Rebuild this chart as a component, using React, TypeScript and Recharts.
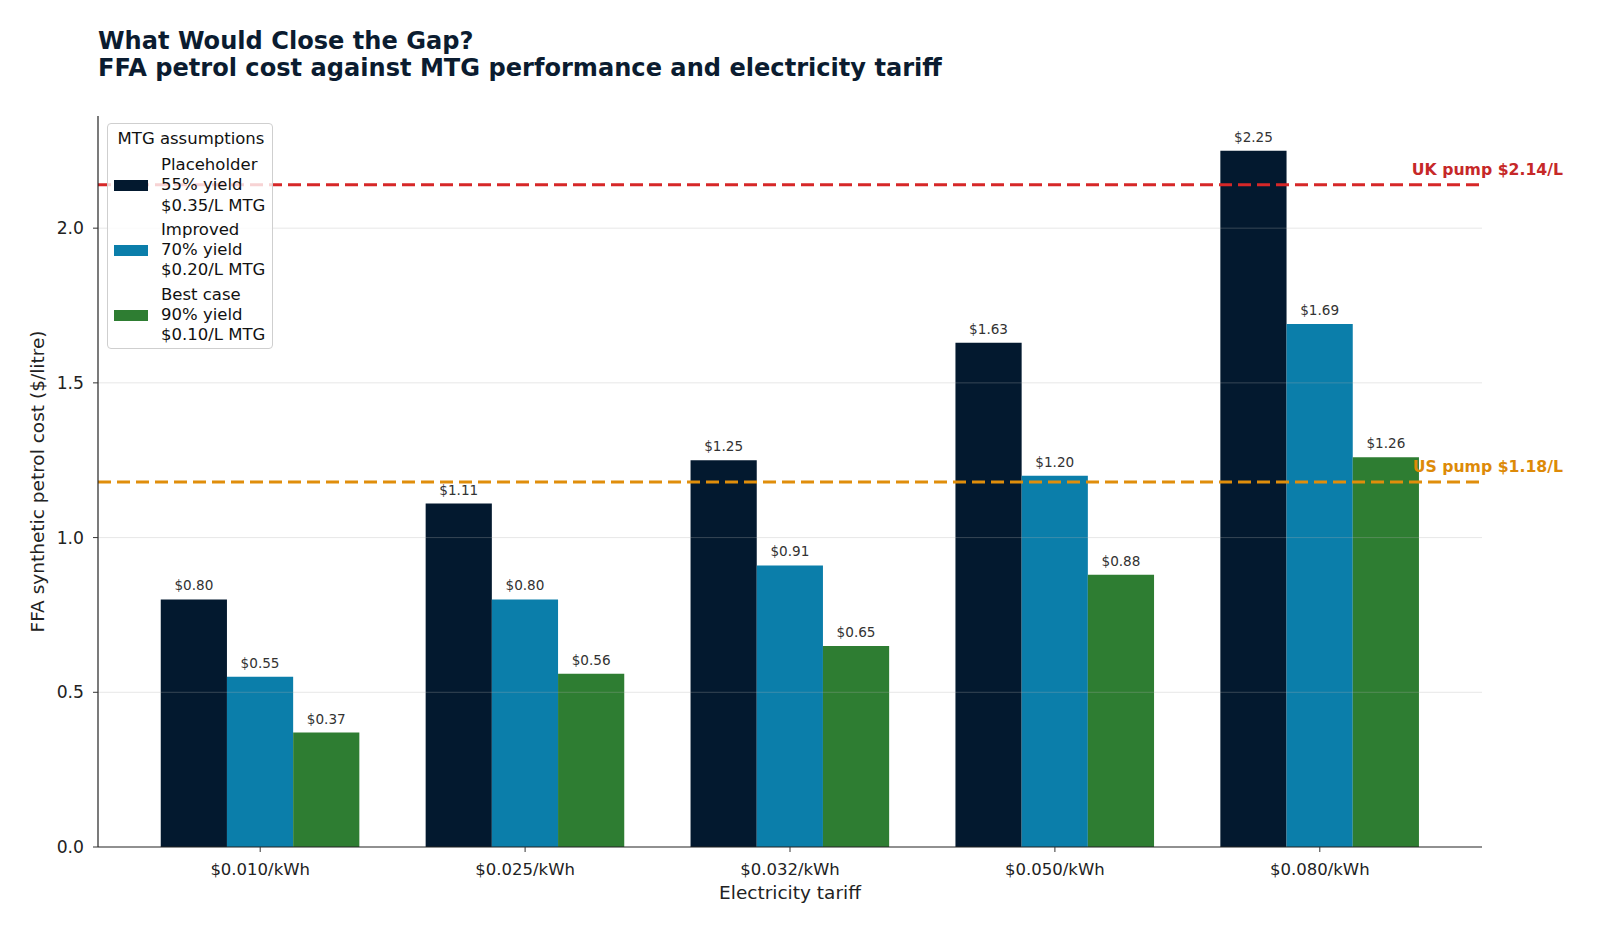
import React from 'react';
import {
  BarChart,
  Bar,
  XAxis,
  YAxis,
  ReferenceLine,
  Legend,
  LabelList,
} from 'recharts';

// Chart data
const TARIFFS = ['$0.010/kWh', '$0.025/kWh', '$0.032/kWh', '$0.050/kWh', '$0.080/kWh'];
const PLACEHOLDER = [0.8, 1.11, 1.25, 1.63, 2.25];
const IMPROVED = [0.55, 0.8, 0.91, 1.2, 1.69];
const BEST_CASE = [0.37, 0.56, 0.65, 0.88, 1.26];
const Y_TICKS = [0, 0.5, 1, 1.5, 2];
const GRID_TICKS = [0.5, 1, 1.5, 2];
const UK_PUMP = 2.14;
const US_PUMP = 1.18;

const FONT = '"DejaVu Sans", Verdana, sans-serif';

const SERIES = [
  { key: 'placeholder', color: '#03192f', lines: ['Placeholder', '55% yield', '$0.35/L MTG'] },
  { key: 'improved', color: '#0b7eaa', lines: ['Improved', '70% yield', '$0.20/L MTG'] },
  { key: 'best', color: '#2e7d32', lines: ['Best case', '90% yield', '$0.10/L MTG'] },
];

const chartData = TARIFFS.map((tariff, i) => ({
  tariff,
  placeholder: PLACEHOLDER[i],
  improved: IMPROVED[i],
  best: BEST_CASE[i],
}));

/**
 * Dollar label above each bar
 */
const ValueLabel = (props: any) => {
  const { x, y, width, value } = props;
  return (
    <text
      x={x + width / 2}
      y={y - 9}
      textAnchor="middle"
      fontSize={13.6}
      fontFamily={FONT}
      fill="#333333"
    >
      {`$${Number(value).toFixed(2)}`}
    </text>
  );
};

/**
 * Pump price label sitting right of the plot, above the line
 */
const pumpLabel = (text: string, color: string) => (props: any) => {
  const { viewBox } = props;
  return (
    <text
      x={viewBox.x + viewBox.width + 81}
      y={viewBox.y - 10}
      textAnchor="end"
      fontSize={15.7}
      fontWeight="bold"
      fontFamily={FONT}
      fill={color}
    >
      {text}
    </text>
  );
};

/**
 * Boxed legend with a title and three-line entries
 */
const MtgLegend = () => (
  <div
    style={{
      boxSizing: 'border-box',
      width: 166,
      height: 226,
      padding: '4px 4px 3px 6px',
      border: '1px solid #cfcfcf',
      borderRadius: 4,
      background: 'rgba(255,255,255,0.8)',
      fontFamily: FONT,
      color: '#111',
    }}
  >
    <div style={{ fontSize: 16.5, lineHeight: '21px', textAlign: 'center', whiteSpace: 'nowrap' }}>
      MTG assumptions
    </div>
    {SERIES.map((s, i) => (
      <div
        key={s.key}
        style={{ display: 'flex', alignItems: 'center', marginTop: i === 0 ? 6 : 4 }}
      >
        <div style={{ width: 34, height: 11, background: s.color, marginRight: 13 }} />
        <div style={{ fontSize: 16.5, lineHeight: '20.3px', whiteSpace: 'nowrap' }}>
          {s.lines.map((l) => (
            <div key={l}>{l}</div>
          ))}
        </div>
      </div>
    ))}
  </div>
);

export default function App() {
  return (
    <div style={{ position: 'absolute', top: 0, left: 0, width: 1600, height: 933, background: '#fff' }}>
      <div
        style={{
          position: 'absolute',
          top: 28,
          left: 98,
          fontFamily: FONT,
          fontWeight: 'bold',
          fontSize: 24.1,
          lineHeight: '27px',
          color: '#0b1c30',
          whiteSpace: 'nowrap',
        }}
      >
        <div>What Would Close the Gap?</div>
        <div>FFA petrol cost against MTG performance and electricity tariff</div>
      </div>

      <BarChart
        width={1600}
        height={933}
        data={chartData}
        margin={{ top: 116, right: 118, bottom: 36, left: 38 }}
        barGap={0}
        barSize={66.2}
        style={{ position: 'absolute', top: 0, left: 0 }}
      >
        <XAxis
          dataKey="tariff"
          height={50}
          padding={{ left: 29.75, right: 29.75 }}
          tick={{ fill: '#222', fontSize: 16.5, fontFamily: FONT }}
          tickLine={{ stroke: '#333' }}
          axisLine={{ stroke: '#222', strokeWidth: 1.2 }}
          tickSize={5}
          tickMargin={11}
          label={{
            content: (p: any) => (
              <text
                x={p.viewBox.x + p.viewBox.width / 2}
                y={899}
                textAnchor="middle"
                fontSize={18.5}
                fontFamily={FONT}
                fill="#222"
              >
                Electricity tariff
              </text>
            ),
          }}
        />
        <YAxis
          width={60}
          domain={[0, 2.3625]}
          ticks={Y_TICKS}
          allowDataOverflow
          tickFormatter={(v: number) => v.toFixed(1)}
          tick={{ fill: '#222', fontSize: 17.2, fontFamily: FONT }}
          tickLine={{ stroke: '#333' }}
          axisLine={{ stroke: '#222', strokeWidth: 1.2 }}
          tickSize={5}
          tickMargin={9}
          label={{
            content: (p: any) => (
              <text
                x={0}
                y={0}
                transform={`translate(37, ${p.viewBox.y + p.viewBox.height / 2}) rotate(-90)`}
                textAnchor="middle"
                dominantBaseline="central"
                fontSize={18.5}
                fontFamily={FONT}
                fill="#222"
              >
                FFA synthetic petrol cost ($/litre)
              </text>
            ),
          }}
        />

        {SERIES.map((s) => (
          <Bar key={s.key} dataKey={s.key} fill={s.color} isAnimationActive={false}>
            <LabelList dataKey={s.key} content={ValueLabel} />
          </Bar>
        ))}

        {/* grid drawn over the bars, faint */}
        {GRID_TICKS.map((t) => (
          <ReferenceLine key={t} y={t} stroke="#b0b0b0" strokeOpacity={0.3} strokeWidth={1} />
        ))}

        <ReferenceLine
          y={UK_PUMP}
          stroke="#d62728"
          strokeWidth={3}
          strokeDasharray="13 6"
          label={{ content: pumpLabel(`UK pump $${UK_PUMP.toFixed(2)}/L`, '#c62828') }}
        />
        <ReferenceLine
          y={US_PUMP}
          stroke="#e08e0b"
          strokeWidth={3}
          strokeDasharray="13 6"
          label={{ content: pumpLabel(`US pump $${US_PUMP.toFixed(2)}/L`, '#dd8a08') }}
        />

        <Legend
          layout="horizontal"
          verticalAlign="middle"
          align="center"
          wrapperStyle={{ top: 123, left: 107, width: 166, height: 226 }}
          content={<MtgLegend />}
        />
      </BarChart>
    </div>
  );
}
